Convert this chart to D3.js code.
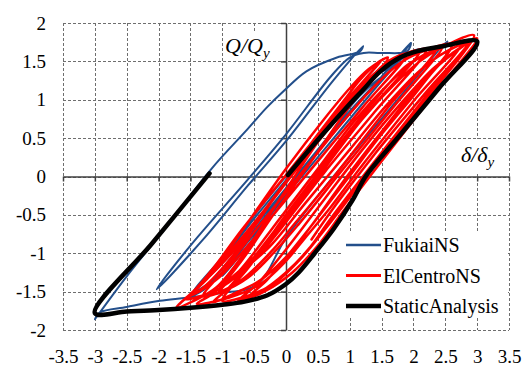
<!DOCTYPE html>
<html lang="en">
<head>
<meta charset="UTF-8">
<title>Hysteresis loops</title>
<script src="https://d3js.org/d3.v7.min.js"></script>
<style>
  body { margin: 0; background: #fff; }
  svg { display: block; }
  svg text { font-family: "Liberation Serif", "Times New Roman", serif; }
</style>
</head>
<body>
<svg id="chart" width="528" height="367"></svg>
<script>
// ---- data (x = delta/delta_y, y = Q/Q_y) ----
const xTicks = [-3.5, -3, -2.5, -2, -1.5, -1, -0.5, 0, 0.5, 1, 1.5, 2, 2.5, 3, 3.5];
const yTicks = [-2, -1.5, -1, -0.5, 0, 0.5, 1, 1.5, 2];
const seriesNames = ["FukiaiNS", "ElCentroNS", "StaticAnalysis"];

const fukiai = [
  [0, 0], [0.4, 0.42], [0.8, 0.85], [1.2, 1.2], [1.5, 1.42], [1.75, 1.55], [1.96, 1.74],
  [1.5, 1.25], [0.8, 0.55], [0.0, -0.25], [-0.6, -0.85], [-1.0, -1.25], [-1.3, -1.48], [-1.5, -1.56],
  [-1.1, -1.2], [-0.5, -0.55], [0.2, 0.15], [0.9, 0.85], [1.4, 1.3], [1.8, 1.52], [2.0, 1.64], [2.2, 1.67], [2.5, 1.69], [2.53, 1.76],
  [2.0, 1.25], [1.3, 0.55], [0.6, -0.15], [0.0, -0.8], [-0.46, -1.41], [-1.04, -1.52], [-1.56, -1.58],
  [-1.98, -1.62], [-2.5, -1.7], [-2.92, -1.77], [-3.0, -1.86],
  [-2.5, -1.3], [-1.9, -0.68], [-1.17, 0.1], [-0.6, 0.62], [-0.3, 0.9], [-0.04, 1.11], [0.32, 1.37],
  [0.8, 1.55], [1.16, 1.63], [1.21, 1.7],
  [0.74, 1.25], [0.0, 0.46], [-0.6, -0.12], [-1.3, -0.82], [-2.03, -1.47],
  [-1.5, -0.9], [-0.6, -0.04], [0.0, 0.55], [0.7, 1.3], [1.0, 1.55], [1.22, 1.61],
  [1.5, 1.61], [1.9, 1.63], [1.96, 1.74],
  [1.5, 1.3], [0.9, 0.72], [0.2, 0.02], [-0.5, -0.7], [-0.9, -1.1], [-1.2, -1.38], [-1.45, -1.5],
  [-1.0, -1.05], [-0.4, -0.4], [0.3, 0.3], [0.9, 0.9], [1.3, 1.25], [1.6, 1.45], [1.85, 1.6],
  [1.3, 1.05], [0.6, 0.35], [-0.1, -0.35], [-0.6, -0.9], [-1.0, -1.3],
  [-0.6, -0.85], [0.0, -0.2], [0.6, 0.45], [1.1, 1.0], [1.5, 1.3],
  [1.0, 0.85], [0.35, 0.2], [-0.3, -0.45], [-0.8, -0.95], [-1.2, -1.3]
];

const elCentro = [
  [0, 0], [0.5, 0.55], [0.9, 0.98], [1.15, 1.25], [1.35, 1.42], [1.5, 1.52],
  [0.8, 0.85], [0.0, 0.02], [-0.7, -0.7], [-1.1, -1.15], [-1.4, -1.45], [-1.72, -1.71],
  [-1.45, -1.62], [-1.1, -1.45], [-0.7, -1.05], [-0.1, -0.3], [0.5, 0.45], [1.0, 1.0], [1.4, 1.35], [1.8, 1.56], [2.2, 1.66],
  [1.4, 0.85], [0.6, 0.05], [-0.1, -0.7], [-0.5, -1.1], [-0.9, -1.38], [-1.2, -1.52], [-1.58, -1.6],
  [-1.3, -1.45], [-0.8, -1.0], [-0.2, -0.3], [0.5, 0.5], [1.1, 1.1], [1.5, 1.4], [1.8, 1.55], [2.1, 1.62], [2.6, 1.72],
  [1.8, 0.9], [1.0, 0.05], [0.3, -0.75], [0.0, -1.05], [-0.4, -1.35], [-0.8, -1.52], [-1.15, -1.64],
  [-0.9, -1.45], [-0.5, -1.05], [0.1, -0.4], [0.8, 0.38], [1.4, 1.0], [1.9, 1.45], [2.3, 1.62], [2.95, 1.84],
  [2.2, 1.05], [1.3, 0.1], [0.7, -0.55], [0.35, -0.95], [0.0, -1.25], [-0.4, -1.5], [-0.75, -1.62],
  [-0.45, -1.4], [0.0, -0.95], [0.6, -0.3], [1.2, 0.35], [1.8, 0.95], [2.3, 1.4], [2.6, 1.6], [3.0, 1.8],
  [2.3, 1.05], [1.5, 0.2], [0.9, -0.45], [0.5, -0.9], [0.1, -1.25], [-0.3, -1.48], [-0.6, -1.58],
  [-0.3, -1.35], [0.2, -0.85], [0.9, -0.1], [1.5, 0.55], [2.0, 1.05], [2.4, 1.45], [2.7, 1.65], [2.9, 1.76],
  [2.1, 0.9], [1.3, 0.05], [0.6, -0.7], [0.2, -1.1], [-0.2, -1.4], [-0.7, -1.58], [-1.0, -1.62],
  [-0.6, -1.2], [0.0, -0.55], [0.6, 0.1], [1.2, 0.75], [1.7, 1.2], [2.1, 1.5], [2.45, 1.68],
  [1.7, 0.92], [0.9, 0.1], [0.2, -0.62], [-0.2, -1.0], [-0.6, -1.32], [-1.0, -1.5], [-1.3, -1.56],
  [-0.95, -1.2], [-0.4, -0.62], [0.2, 0.0], [0.8, 0.62], [1.3, 1.1], [1.7, 1.42], [2.0, 1.58], [2.35, 1.66],
  [1.6, 0.9], [0.8, 0.05], [0.15, -0.6], [-0.2, -0.95], [-0.7, -1.35], [-1.05, -1.5],
  [-0.7, -1.2], [-0.1, -0.55], [0.5, 0.1], [1.1, 0.75], [1.6, 1.2], [2.0, 1.5], [2.3, 1.64], [2.75, 1.74],
  [2.0, 0.98], [1.2, 0.15], [0.7, -0.4], [0.3, -0.8], [0.0, -1.1], [-0.4, -1.4], [-0.9, -1.58], [-1.4, -1.66],
  [-1.1, -1.5], [-0.7, -1.1], [-0.2, -0.5], [0.4, 0.2], [0.9, 0.8], [1.3, 1.25], [1.6, 1.5], [1.9, 1.6],
  [1.2, 0.9], [0.5, 0.2], [-0.2, -0.5], [-0.7, -1.0], [-1.1, -1.35], [-1.5, -1.55],
  [-1.2, -1.3], [-0.6, -0.6], [0.0, 0.1], [0.6, 0.75], [1.0, 1.15], [1.3, 1.4], [1.6, 1.55],
  [0.9, 0.85], [0.2, 0.15], [-0.4, -0.5], [-0.9, -1.0], [-1.3, -1.38],
  [-0.8, -0.95], [-0.2, -0.3], [0.5, 0.45], [1.1, 1.05], [1.5, 1.4], [1.8, 1.57], [2.1, 1.64],
  [1.4, 0.95], [0.6, 0.15], [0.0, -0.5], [-0.5, -1.05], [-0.9, -1.35],
  [-0.3, -0.95], [0.3, -0.35], [1.0, 0.35], [1.6, 0.95], [2.1, 1.38], [2.5, 1.62], [2.85, 1.74],
  [2.2, 1.1], [1.4, 0.3], [0.8, -0.35], [0.4, -0.82]
];

const staticAnalysis = [
  [0.03, 0.02], [0.48, 0.46], [0.95, 0.9], [1.2, 1.12], [1.48, 1.37], [1.79, 1.55], [2.05, 1.63],
  [2.47, 1.7], [3.0, 1.76], [2.4, 1.15], [1.8, 0.55], [1.25, 0.0], [1.05, -0.3], [0.75, -0.68],
  [0.45, -1.0], [0.2, -1.25], [0.0, -1.4], [-0.3, -1.55], [-0.65, -1.63], [-1.0, -1.67],
  [-1.5, -1.71], [-2.0, -1.74], [-2.5, -1.76], [-3.0, -1.78], [-2.1, -0.87], [-1.2, 0.04]
];

// ---- chart ----
const svg = d3.select("#chart");
const x = d3.scaleLinear().domain([-3.5, 3.5]).range([63, 509]);
const y = d3.scaleLinear().domain([-2, 2]).range([330, 23]);

const colors = ["#234f8b", "#ff0000", "#000000"];
const widths = [2, 2.5, 4.5];

// dashed grid (including the outer border)
let gridD = "";
xTicks.forEach(v => {
  const px = Math.round(x(v)) + 0.5;
  gridD += `M${px},${y(2)}V${y(-2)}`;
});
yTicks.forEach(v => {
  const py = Math.round(y(v)) + 0.5;
  gridD += `M${x(-3.5)},${py}H${x(3.5)}`;
});
svg.append("path")
  .attr("d", gridD)
  .attr("fill", "none")
  .attr("stroke", "#6e6e6e")
  .attr("stroke-width", 1)
  .attr("stroke-dasharray", "3 2");

// axes through the origin, labels moved to the outside
const xAxis = svg.append("g")
  .attr("transform", `translate(0,${y(0)})`)
  .call(d3.axisBottom(x).tickValues(xTicks).tickSize(5).tickSizeOuter(0).tickFormat(d => String(d)));
xAxis.selectAll("text").attr("y", y(-2) - y(0) + 20);

const yAxis = svg.append("g")
  .attr("transform", `translate(${x(0)},0)`)
  .call(d3.axisLeft(y).tickValues(yTicks).tickSize(5).tickSizeOuter(0).tickFormat(d => String(d)));
yAxis.selectAll("text").attr("x", 46 - x(0));

[xAxis, yAxis].forEach(a => {
  a.attr("font-family", null).attr("font-size", null);
  a.selectAll("text").attr("fill", "#000")
    .style("font-family", "'Liberation Serif', serif").style("font-size", "19px");
  a.selectAll(".domain, .tick line").attr("stroke", "#404040").attr("stroke-width", 1.5);
});

// axis title boxes
svg.append("rect").attr("x", 223).attr("y", 31).attr("width", 61).attr("height", 28).attr("fill", "#fff");
svg.append("rect").attr("x", 455).attr("y", 139).attr("width", 53).attr("height", 35).attr("fill", "#fff");

// hysteresis curves
const line = d3.line().x(d => x(d[0])).y(d => y(d[1])).curve(d3.curveCatmullRom.alpha(0.5));
[fukiai, elCentro, staticAnalysis].forEach((s, i) => {
  svg.append("path").datum(s)
    .attr("d", line)
    .attr("fill", "none")
    .attr("stroke", colors[i])
    .attr("stroke-width", widths[i])
    .attr("stroke-linejoin", "round")
    .attr("stroke-linecap", "round");
});

// axis titles
const qLabel = svg.append("text").attr("x", 225).attr("y", 53)
  .style("font-size", "22px").style("font-style", "italic");
qLabel.append("tspan").text("Q/Q");
qLabel.append("tspan").attr("dy", 5).style("font-size", "15px").text("y");

const dLabel = svg.append("text").attr("x", 461).attr("y", 162)
  .style("font-size", "22px").style("font-style", "italic");
dLabel.append("tspan").text("δ/δ");
dLabel.append("tspan").attr("dy", 5).style("font-size", "15px").text("y");

// legend
const legend = svg.append("g");
legend.append("rect").attr("x", 342).attr("y", 231).attr("width", 166).attr("height", 87).attr("fill", "#fff");
seriesNames.forEach((name, i) => {
  const cy = 245 + i * 30.5;
  legend.append("line").attr("x1", 346).attr("x2", 381).attr("y1", cy).attr("y2", cy)
    .attr("stroke", colors[i]).attr("stroke-width", [2.5, 3, 4.5][i]);
  legend.append("text").attr("x", 383).attr("y", cy + 7).style("font-size", "20px").text(name);
});
</script>
</body>
</html>
